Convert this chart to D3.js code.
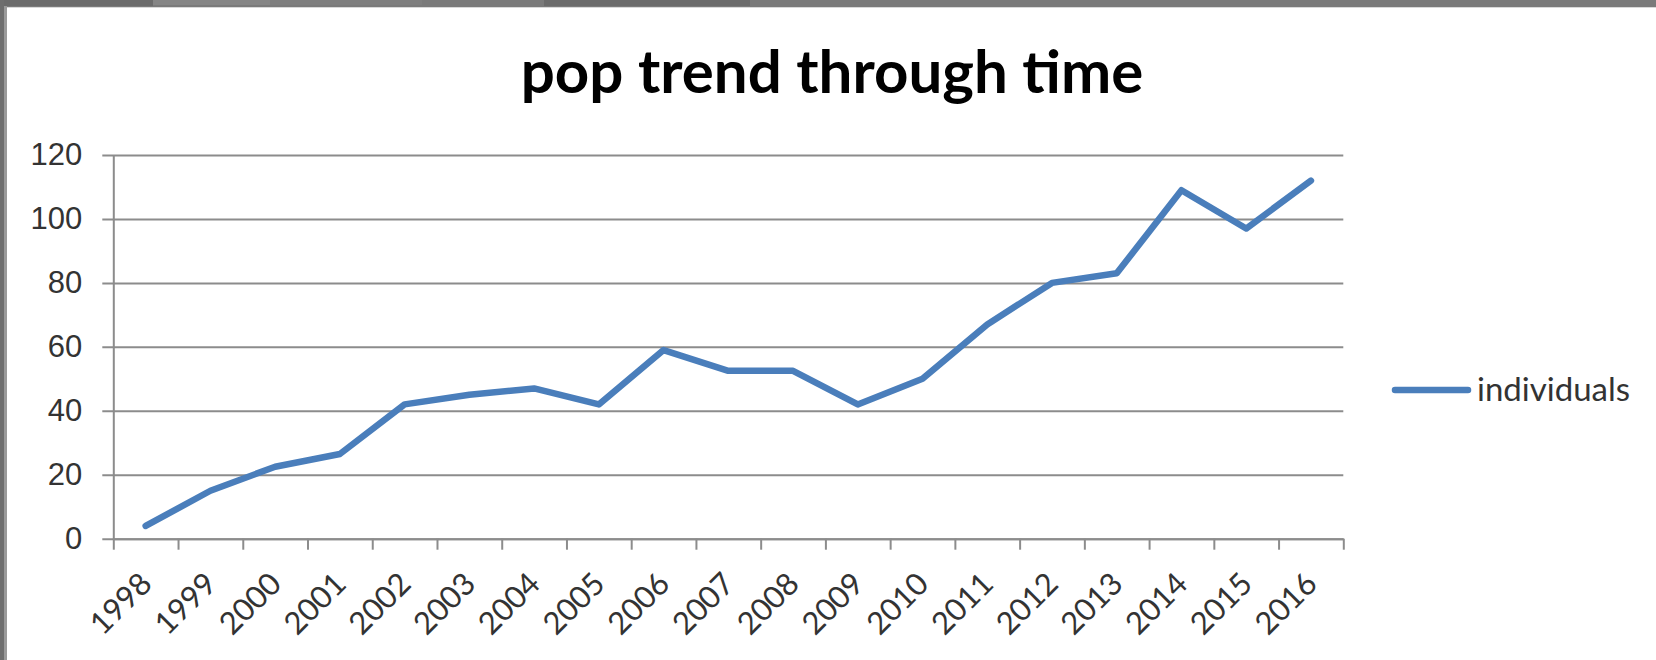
<!DOCTYPE html>
<html>
<head>
<meta charset="utf-8">
<script src="https://cdn.jsdelivr.net/npm/d3@7"></script>
<style>
  html, body { margin: 0; padding: 0; background: #fff; }
  svg { display: block; font-family: Lato, "Open Sans", sans-serif; }
</style>
</head>
<body>
<svg id="chart" width="1656" height="660"></svg>
<script>
const chartTitle = "pop trend through time"
const seriesName = "individuals"
const years = ["1998", "1999", "2000", "2001", "2002", "2003", "2004", "2005", "2006", "2007",
  "2008", "2009", "2010", "2011", "2012", "2013", "2014", "2015", "2016"]
const individuals = [4, 15, 22.5, 26.5, 42, 45, 47, 42, 59, 52.5, 52.5, 42, 50, 67, 80, 83, 109, 97, 112]
const yTicks = [0, 20, 40, 60, 80, 100, 120]

const W = 1656
const H = 660
const plotLeft = 113.3
const plotRight = 1343.3
const plotTop = 155
const plotBottom = 538.7

const svg = d3.select("#chart")

// window frame round the chart
svg.append("rect").attr("width", W).attr("height", H).attr("fill", "#fff")
const frame = svg.append("g")
frame.append("rect").attr("x", 0).attr("y", 0).attr("width", W).attr("height", 7).attr("fill", "#7a7a7a")
frame.append("rect").attr("x", 0).attr("y", 0).attr("width", 153).attr("height", 6).attr("fill", "#6b6b6b")
frame.append("rect").attr("x", 153).attr("y", 0).attr("width", 117).attr("height", 5).attr("fill", "#858585")
frame.append("rect").attr("x", 270).attr("y", 0).attr("width", 152).attr("height", 5).attr("fill", "#7e7e7e")
frame.append("rect").attr("x", 544).attr("y", 0).attr("width", 206).attr("height", 6).attr("fill", "#6b6b6b")
frame.append("rect").attr("x", 0).attr("y", 0).attr("width", 4).attr("height", H).attr("fill", "#6e6e6e")
frame.append("rect").attr("x", 4).attr("y", 6).attr("width", 3).attr("height", H).attr("fill", "#9a9a9a")
frame.append("rect").attr("x", 7).attr("y", 7).attr("width", W).attr("height", 1).attr("fill", "#d8d8d8")

const x = d3.scaleBand().domain(years).range([plotLeft, plotRight]).padding(0)
const xEdge = d3.scaleLinear().domain([0, years.length]).range([plotLeft, plotRight])
const y = d3.scaleLinear().domain([0, 120]).range([plotBottom, plotTop])

// gridlines
svg.append("g")
  .attr("transform", `translate(${plotRight},0)`)
  .call(d3.axisLeft(y).tickValues(yTicks).tickSize(plotRight - plotLeft + 11).tickFormat(""))
  .call(g => g.select(".domain").remove())
  .call(g => g.selectAll("line").attr("stroke", "#8c8c8c").attr("stroke-width", 2))

// y labels + axis line
svg.append("g")
  .attr("transform", `translate(${plotLeft},0)`)
  .call(d3.axisLeft(y).tickValues(yTicks).tickSize(0).tickPadding(31).tickSizeOuter(0))
  .call(g => g.select(".domain").attr("stroke", "#8c8c8c").attr("stroke-width", 2))
  .call(g => g.selectAll("text")
    .attr("fill", "#333")
    .style("font-size", "31px"))

// x axis with ticks on category edges
svg.append("g")
  .attr("transform", `translate(0,${plotBottom})`)
  .call(d3.axisBottom(xEdge).tickValues(d3.range(years.length + 1)).tickSize(11).tickSizeOuter(0).tickFormat(""))
  .call(g => g.select(".domain").attr("stroke", "#8c8c8c").attr("stroke-width", 2))
  .call(g => g.selectAll("line").attr("stroke", "#8c8c8c").attr("stroke-width", 2))

svg.append("g")
  .selectAll(".xlabel")
  .data(years)
  .enter()
  .append("text")
  .classed("xlabel", true)
  .attr("transform", d => `translate(${x(d) + x.bandwidth() / 2 + 8},${plotBottom + 47}) rotate(-45)`)
  .attr("text-anchor", "end")
  .attr("fill", "#333")
  .style("font-size", "31px")
  .text(d => d)

// series line
const line = d3.line()
  .x((d, i) => x(years[i]) + x.bandwidth() / 2)
  .y(d => y(d))

svg.append("path")
  .datum(individuals)
  .attr("d", line)
  .attr("fill", "none")
  .attr("stroke", "#4a7ebb")
  .attr("stroke-width", 6.5)
  .attr("stroke-linejoin", "round")
  .attr("stroke-linecap", "round")

// title
svg.append("text")
  .attr("x", 832)
  .attr("y", 93)
  .attr("text-anchor", "middle")
  .attr("fill", "#000")
  .style("font-size", "60px")
  .style("font-weight", "bold")
  .text(chartTitle)

// legend
const legend = svg.append("g").attr("transform", "translate(1395,390)")
legend.append("line")
  .attr("x1", 0).attr("x2", 73)
  .attr("stroke", "#4a7ebb")
  .attr("stroke-width", 6.5)
  .attr("stroke-linecap", "round")
legend.append("text")
  .attr("x", 82)
  .attr("y", 11)
  .attr("fill", "#333")
  .style("font-size", "33px")
  .text(seriesName)
</script>
</body>
</html>
